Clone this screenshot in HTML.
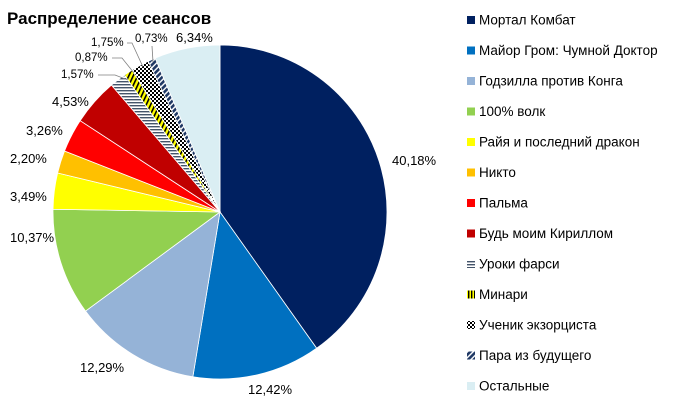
<!DOCTYPE html>
<html><head><meta charset="utf-8"><style>
body{margin:0;width:700px;height:409px;background:#fff;overflow:hidden;font-family:"Liberation Sans","DejaVu Sans",sans-serif;}
</style></head><body>
<svg id="s" width="700" height="409" xmlns="http://www.w3.org/2000/svg" style="position:absolute;left:0;top:0">
<defs>
<pattern id="pH" width="3" height="3" patternUnits="userSpaceOnUse"><rect width="3" height="3" fill="#fff"/><rect width="3" height="1.4" fill="#44546A"/></pattern>
<pattern id="pV" width="4" height="4" patternUnits="userSpaceOnUse" patternTransform="rotate(25)"><rect width="4" height="4" fill="#FFFF00"/><rect width="1.6" height="4" fill="#000"/></pattern>
<pattern id="pD" width="4" height="4" patternUnits="userSpaceOnUse"><rect width="4" height="4" fill="#fff"/><rect width="2" height="2" fill="#000"/><rect x="2" y="2" width="2" height="2" fill="#000"/></pattern>
<pattern id="pP" width="4" height="4" patternUnits="userSpaceOnUse" patternTransform="rotate(45)"><rect width="4" height="4" fill="#fff"/><rect width="2.6" height="4" fill="#1F3864"/></pattern>
<pattern id="pV2" width="3" height="4" patternUnits="userSpaceOnUse"><rect width="3" height="4" fill="#FFFF00"/><rect width="1.4" height="4" fill="#000"/></pattern>
</defs>
<g id="pie"></g>
<g font-size="13" fill="#000" font-family="Liberation Sans, sans-serif">
<text x="392" y="165">40,18%</text>
<text x="248" y="394">12,42%</text>
<text x="80" y="372">12,29%</text>
<text x="10" y="242">10,37%</text>
<text x="10" y="201">3,49%</text>
<text x="10" y="163">2,20%</text>
<text x="26" y="135">3,26%</text>
<text x="52" y="106">4,53%</text>
<text x="61" y="78" font-size="11.5">1,57%</text>
<text x="75" y="61" font-size="11.5">0,87%</text>
<text x="91" y="46" font-size="11.5">1,75%</text>
<text x="135" y="42" font-size="11.5">0,73%</text>
<text x="176" y="42">6,34%</text>
</g>
<g stroke="#808080" stroke-width="0.8" fill="none">
<polyline points="98,75 115,75 128,80"/>
<polyline points="112,58 122,58 134,73"/>
<polyline points="127,43 132,43 143,67"/>
<polyline points="152,46 153,62"/>
</g>
<text x="7" y="24" font-size="17" font-weight="bold" fill="#000">Распределение сеансов</text>
<g id="leg" font-size="13.5" fill="#000"></g>
</svg>
<script>
var cx=220,cy=212,r=167;
var d=[[40.18,"#002060"],[12.42,"#0070C0"],[12.29,"#95B3D7"],[10.37,"#92D050"],[3.49,"#FFFF00"],[2.20,"#FFC000"],[3.26,"#FF0000"],[4.53,"#C00000"],[1.57,"url(#pH)"],[0.87,"url(#pV)"],[1.75,"url(#pD)"],[0.73,"url(#pP)"],[6.34,"#DAEEF3"]];
var tot=0;d.forEach(function(e){tot+=e[0]});
var a=0,h="";
d.forEach(function(e){var a2=a+e[0]/tot*2*Math.PI;
var x1=cx+r*Math.sin(a),y1=cy-r*Math.cos(a),x2=cx+r*Math.sin(a2),y2=cy-r*Math.cos(a2);
h+='<path d="M'+cx+','+cy+' L'+x1+','+y1+' A'+r+','+r+' 0 '+((a2-a)>Math.PI?1:0)+' 1 '+x2+','+y2+' Z" fill="'+e[1]+'" stroke="#fff" stroke-width="0.8"/>';a=a2;});
document.getElementById("pie").innerHTML=h;
var n=["Мортал Комбат","Майор Гром: Чумной Доктор","Годзилла против Конга","100% волк","Райя и последний дракон","Никто","Пальма","Будь моим Кириллом","Уроки фарси","Минари","Ученик экзорциста","Пара из будущего","Остальные"];
var lf=["#002060","#0070C0","#95B3D7","#92D050","#FFFF00","#FFC000","#FF0000","#C00000","url(#pH)","url(#pV2)","url(#pD)","url(#pP)","#DAEEF3"];
var g="";
for(var i=0;i<13;i++){var y=20+i*30.5;g+='<rect x="467" y="'+(y-4)+'" width="8" height="8" fill="'+lf[i]+'"/><text x="479" y="'+(y+4.5)+'">'+n[i]+'</text>';}
document.getElementById("leg").innerHTML=g;
</script>
</body></html>
